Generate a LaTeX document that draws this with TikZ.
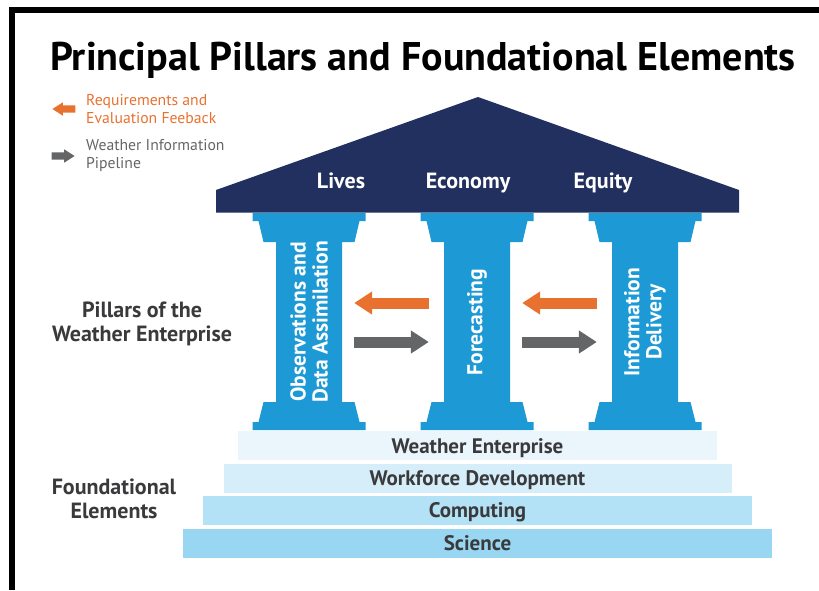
\documentclass[tikz,border=0pt]{standalone}
\usepackage{fontspec}
\setmainfont{PT Sans}
\usetikzlibrary{shapes.arrows, arrows.meta, positioning}
\definecolor{roofNavy}{HTML}{21305E}
\definecolor{pillarBlue}{HTML}{1D9AD6}
\definecolor{feedOrange}{HTML}{E8712F}
\definecolor{pipeGray}{HTML}{646567}
\definecolor{labelGray}{HTML}{3A3A3C}
\definecolor{layerOne}{HTML}{EAF6FC}
\definecolor{layerTwo}{HTML}{D6EEF9}
\definecolor{layerThree}{HTML}{B3E1F5}
\definecolor{layerFour}{HTML}{98D6F1}
\tikzset{
    pillar/.pic={
        \fill[pillarBlue] (-56.5,213) -- (56.5,213) -- (56.5,221) -- (50.5,221) -- (45.5,242) -- (33,242)
            -- (33,402) -- (45.5,402) -- (50.5,422) -- (56.5,422) -- (56.5,430) -- (-56.5,430)
            -- (-56.5,422) -- (-50.5,422) -- (-45.5,402) -- (-33,402) -- (-33,242) -- (-45.5,242)
            -- (-50.5,221) -- (-56.5,221) -- cycle;
    },
    shaft/.style={rectangle, minimum width=66pt, minimum height=160pt, inner sep=0pt},
    pillarLabel/.style={text=white, rotate=90, align=center, font=\fontsize{21.5}{22}\selectfont\bfseries},
    roofLabel/.style={anchor=base, text=white, font=\fontsize{22}{26}\selectfont\bfseries},
    sideLabel/.style={text=labelGray, align=center, font=\fontsize{22}{23.5}\selectfont\bfseries},
    layer/.style={rectangle, minimum height=29pt, inner sep=0pt, text height=14.5pt, text depth=0pt,
        text=labelGray, font=\fontsize{21}{24}\selectfont\bfseries},
    legendArrow/.style={single arrow, minimum height=23pt, inner xsep=0pt, inner ysep=3.5pt,
        single arrow head extend=3pt, single arrow tip angle=65},
    legendText/.style={anchor=west, align=left, inner sep=0pt, font=\fontsize{15.7}{18}\selectfont},
    feedback/.style={draw=feedOrange, line width=11pt, -{Triangle[length=18pt, width=22pt]},
        shorten <=15pt, shorten >=12pt},
    pipeline/.style={draw=pipeGray, line width=11pt, -{Triangle[length=18pt, width=22pt]},
        shorten <=12pt, shorten >=15pt}
}

\begin{document}
\begin{tikzpicture}[x=1pt, y=-1pt]
    \useasboundingbox (0,0) rectangle (819,590);

    % Frame and title
    \draw[line width=5.5pt] (12,590) -- (12,10) -- (819,10);
    \node[anchor=base west, inner sep=0pt, font=\fontsize{40}{48}\selectfont\bfseries] (title) at (50,70)
        {Principal Pillars and Foundational Elements};

    % Legend
    \node[legendArrow, fill=feedOrange, shape border rotate=180, anchor=tip] (legendFeedback) at (52,109) {};
    \node[legendText, text=feedOrange] (feedbackText) at (86,109)
        {Requirements and\\Evaluation Feeback};
    \node[legendArrow, fill=pipeGray, anchor=tip] (legendPipeline) at (75,156) {};
    \node[legendText, text=pipeGray] (pipelineText) at (86,156)
        {Weather Information\\Pipeline};

    % Roof
    \fill[roofNavy] (216,212.7) -- (216,190) -- (478,97) -- (739,190) -- (739,212.7) -- cycle;
    \node[roofLabel] (lives) at (341,188) {Lives};
    \node[roofLabel] (economy) at (468,188) {Economy};
    \node[roofLabel] (equity) at (603,188) {Equity};

    % Pillars
    \pic at (309,0) {pillar};
    \pic at (477,0) {pillar};
    \pic at (645,0) {pillar};
    \node[shaft] (shaft1) at (309,322) {};
    \node[shaft] (shaft2) at (477,322) {};
    \node[shaft] (shaft3) at (645,322) {};
    \node[pillarLabel] (observations) at (shaft1) {Observations and\\Data Assimilation};
    \node[pillarLabel] (forecasting) at (shaft2) {Forecasting};
    \node[pillarLabel] (delivery) at (shaft3) {Information\\Delivery};

    % Arrows between pillars
    \draw[feedback] ([yshift=19pt]shaft2.west) -- ([yshift=19pt]shaft1.east);
    \draw[pipeline] ([yshift=-20pt]shaft1.east) -- ([yshift=-20pt]shaft2.west);
    \draw[feedback] ([yshift=19pt]shaft3.west) -- ([yshift=19pt]shaft2.east);
    \draw[pipeline] ([yshift=-20pt]shaft2.east) -- ([yshift=-20pt]shaft3.west);

    % Foundation layers
    \node[layer, fill=layerFour, minimum width=589pt] (science) at (477.5,543) {Science};
    \node[layer, fill=layerThree, minimum width=549pt, above=3pt of science] (computing) {Computing};
    \node[layer, fill=layerTwo, minimum width=508pt, above=3pt of computing] (workforce) {Workforce Development};
    \node[layer, fill=layerOne, minimum width=479pt, above=3pt of workforce] (enterprise) {Weather Enterprise};

    % Side labels
    \node[sideLabel] (pillarsLabel) at (142,324) {Pillars of the\\Weather Enterprise};
    \node[sideLabel] (foundationLabel) at (114,499) {Foundational\\Elements};

\end{tikzpicture}
\end{document}
